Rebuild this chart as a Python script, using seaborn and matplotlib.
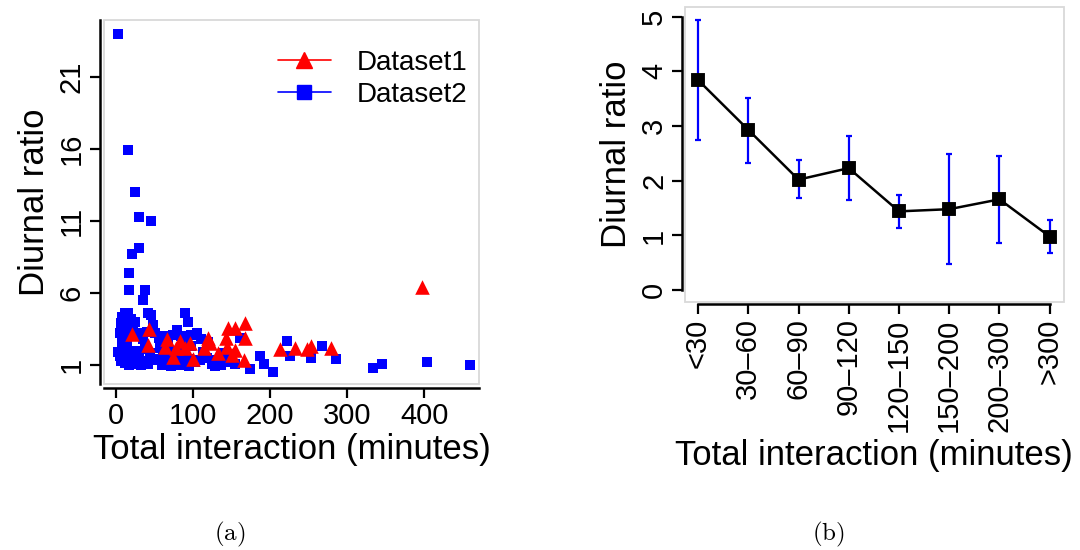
import matplotlib
matplotlib.use("Agg")
import matplotlib.pyplot as plt
import seaborn as sns
import pandas as pd
from matplotlib.lines import Line2D
from matplotlib.patches import Rectangle

# ---- (a) per-user points: total interaction (minutes) vs diurnal ratio
d1_minutes = [397, 21, 43, 41, 66, 64, 83, 78, 96, 90, 74, 100, 120, 122, 114, 133,
              146, 154, 168, 143, 168, 144, 155, 150, 166, 213, 232, 248, 253, 279]
d1_ratio = [6.4, 3.15, 3.5, 2.4, 2.8, 2.27, 2.7, 2.15, 2.5, 2.15, 1.53, 1.42, 2.85, 2.5,
            2.15, 1.8, 3.6, 3.6, 3.9, 2.85, 2.9, 2.27, 2.04, 1.7, 1.35, 2.1, 2.15, 2.1,
            2.3, 2.2]

d2_minutes = [2, 16, 25, 30, 45, 30, 21, 17, 17, 38, 35,
              12, 8, 15, 42, 46, 90, 94, 48, 6, 20, 25, 11,
              5, 9, 14, 18, 22, 27, 31, 35, 40, 50, 56, 62, 68, 74, 79, 85, 92, 98,
              105, 110, 161, 120, 13, 8,
              3, 5, 10, 14, 18, 22, 26, 30, 35, 38, 44, 48, 53, 57, 61, 66, 70, 75,
              80, 85, 88, 93, 97, 102, 109, 113, 118, 124, 131, 136, 140, 144, 150,
              155, 7, 12, 17, 25, 33, 42, 60, 72, 95, 128,
              187, 192, 174, 204, 222, 226, 253, 267, 285, 334, 346, 404, 459]
d2_ratio = [24.0, 15.9, 13.0, 11.3, 11.0, 9.1, 8.7, 7.4, 6.2, 6.2, 5.5,
            4.6, 4.3, 4.6, 4.6, 4.5, 4.6, 4.0, 3.8, 3.9, 4.2, 4.0, 3.6,
            3.2, 3.0, 3.4, 3.1, 3.5, 3.2, 3.0, 2.8, 3.3, 3.2, 2.9, 3.0, 2.7, 3.1,
            3.4, 3.0, 2.9, 3.1, 3.2, 2.8, 2.9, 2.6, 2.7, 2.5,
            1.9, 1.6, 2.2, 2.3, 1.8, 1.4, 2.0, 1.6, 1.3, 2.1, 1.8, 1.4, 1.35, 2.2,
            1.7, 1.3, 2.0, 1.6, 1.2, 1.0, 1.8, 1.4, 2.3, 1.2, 1.35, 1.9, 1.5, 1.1,
            1.35, 1.0, 1.8, 1.23, 1.5, 1.1, 1.3, 1.15, 1.0, 1.1, 1.0, 1.05, 1.0,
            0.9, 0.9, 0.9,
            1.6, 1.1, 0.7, 0.53, 2.67, 1.6, 1.5, 2.3, 1.4, 0.8, 1.1, 1.18, 1.0]

# ---- (b) mean diurnal ratio per interaction bin, with error bar ends
bins = ["<30", "30\u201360", "60\u201390", "90\u2013120", "120\u2013150",
        "150\u2013200", "200\u2013300", ">300"]
bin_mean = [3.84, 2.93, 2.02, 2.23, 1.44, 1.48, 1.66, 0.98]
bin_low = [2.74, 2.33, 1.68, 1.65, 1.14, 0.48, 0.87, 0.68]
bin_high = [4.93, 3.52, 2.37, 2.82, 1.73, 2.48, 2.45, 1.29]

sns.set_theme(style="white")
plt.rcParams["font.family"] = ["Liberation Sans", "DejaVu Sans"]
plt.rcParams["mathtext.fontset"] = "cm"
for k in ["text.color", "axes.labelcolor", "xtick.color", "ytick.color"]:
    plt.rcParams[k] = "black"

fig = plt.figure(figsize=(10.8, 5.5), dpi=100)
ax1 = fig.add_axes([0.0963, 0.3018, 0.347, 0.6618])
ax2 = fig.add_axes([0.634, 0.4515, 0.351, 0.5364])


def r_frame(ax, off):
    # light grey box plus black axis lines pushed outwards (R look)
    for s in ["top", "right"]:
        ax.spines[s].set_visible(False)
    for s in ["left", "bottom"]:
        ax.spines[s].set_position(("outward", off))
        ax.spines[s].set_color("black")
        ax.spines[s].set_linewidth(1.8)
    ax.add_patch(Rectangle((0, 0), 1, 1, transform=ax.transAxes, fill=False,
                           edgecolor="#d9d9d9", lw=1.3, clip_on=False, zorder=0))
    ax.tick_params(left=True, bottom=True, length=7, width=1.6, labelsize=21,
                   pad=3)


df2 = pd.DataFrame({"minutes": d2_minutes, "ratio": d2_ratio})
df1 = pd.DataFrame({"minutes": d1_minutes, "ratio": d1_ratio})
sns.scatterplot(data=df2, x="minutes", y="ratio", marker="s", color="#0000ff",
                s=62, linewidth=0, ax=ax1, zorder=3)
sns.scatterplot(data=df1, x="minutes", y="ratio", marker="^", color="#ff0000",
                s=110, linewidth=0, ax=ax1, zorder=4)
ax1.set_xlim(-15.6, 471)
ax1.set_ylim(-0.32, 24.96)
ax1.set_xticks([0, 100, 200, 300, 400])
ax1.set_yticks([1, 6, 11, 16, 21])
r_frame(ax1, 3)
ax1.tick_params(axis="y", labelrotation=90)
plt.setp(ax1.get_yticklabels(), va="center")
ax1.set_xlabel("Total interaction (minutes)", fontsize=25, labelpad=2)
ax1.set_ylabel("Diurnal ratio", fontsize=25, labelpad=5)

handles = [Line2D([], [], color="#ff0000", marker="^", markersize=12, lw=1.2),
           Line2D([], [], color="#0000ff", marker="s", markersize=10, lw=1.2)]
ax1.legend(handles, ["Dataset1", "Dataset2"], loc="upper left",
           bbox_to_anchor=(278 / 1080, 1 - 50 / 550),
           bbox_transform=fig.transFigure, frameon=False, fontsize=20,
           borderpad=0, borderaxespad=0, handlelength=1.9, handletextpad=0.95,
           labelspacing=0.2)

ax2.errorbar(range(len(bins)), bin_mean,
             yerr=[[m - lo for m, lo in zip(bin_mean, bin_low)],
                   [hi - m for m, hi in zip(bin_mean, bin_high)]],
             fmt="none", ecolor="#0000ff", elinewidth=1.6, capsize=2.5,
             capthick=1.6, zorder=1)
sns.pointplot(x=bins, y=bin_mean, color="black", markers="s", linestyles="-",
              errorbar=None, ax=ax2, markersize=8, linewidth=1.8)
ax2.set_xlim(-0.265, 7.28)
ax2.set_ylim(-0.21, 5.18)
ax2.set_yticks([0, 1, 2, 3, 4, 5])
r_frame(ax2, 2)
ax2.spines["left"].set_bounds(0, 5)
ax2.spines["bottom"].set_bounds(0, 7)
ax2.tick_params(axis="y", labelrotation=90)
ax2.tick_params(axis="x", labelrotation=90)
plt.setp(ax2.get_yticklabels(), va="center")
ax2.set_xlabel("Total interaction (minutes)", fontsize=25, labelpad=5)
ax2.set_ylabel("Diurnal ratio", fontsize=25, labelpad=5)

fig.text(230 / 1080, 1 - 534 / 550, r"$\mathrm{(a)}$", fontsize=18,
         ha="center", va="center")
fig.text(828 / 1080, 1 - 534 / 550, r"$\mathrm{(b)}$", fontsize=18,
         ha="center", va="center")

fig.savefig("out.png", dpi=100)
